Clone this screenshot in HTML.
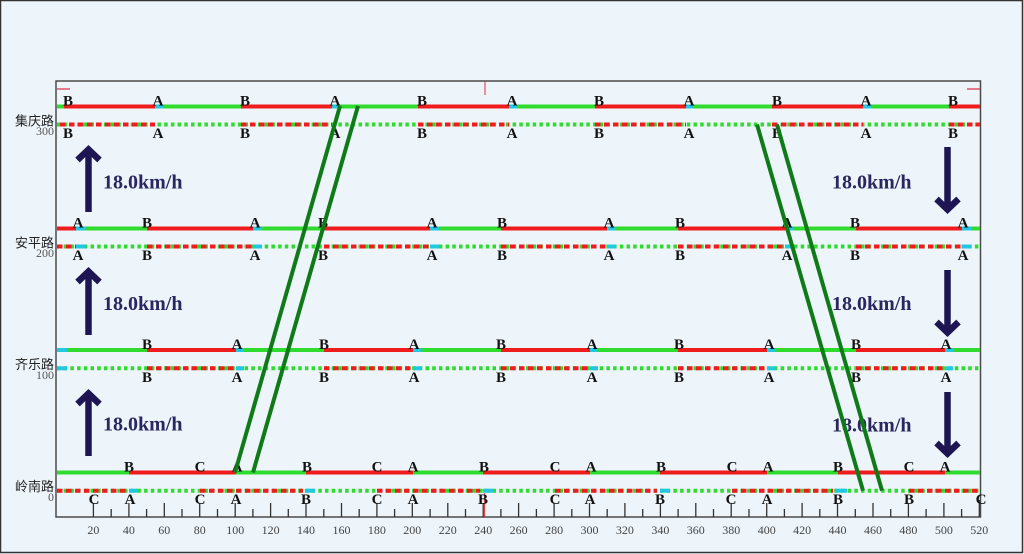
<!DOCTYPE html>
<html><head><meta charset="utf-8"><style>
html,body{margin:0;padding:0;background:#edf5fb;}
svg{display:block;}
.lb{font-family:"Liberation Serif",serif;font-weight:bold;font-size:15px;fill:#111;text-anchor:middle;}
.ax{font-family:"Liberation Serif",serif;font-size:12px;fill:#444;text-anchor:middle;}
.yl{font-family:"Liberation Serif",serif;font-size:12px;fill:#555;text-anchor:end;}
.st{font-family:"Liberation Sans","Noto Sans CJK SC",sans-serif;font-size:13px;fill:#222;text-anchor:end;}
.sp{font-family:"Liberation Serif",serif;font-weight:bold;font-size:20px;fill:#2b2660;}
.g{stroke:#2edb2e;stroke-width:4;}
.r{stroke:#ee1c1c;stroke-width:4;}
.c{stroke:#22c8e0;stroke-width:4;}
.gd{stroke:#2edb2e;stroke-width:4;stroke-dasharray:3.5 3.2;}
.rd{stroke:#ee1c1c;stroke-width:4;stroke-dasharray:5.5 3.5;}
.dg{stroke:#0f7a17;stroke-width:4;}
.ar{stroke:#1d1652;stroke-width:6.5;fill:none;stroke-linejoin:miter;}
</style></head><body>
<svg width="1024" height="554" viewBox="0 0 1024 554" xmlns="http://www.w3.org/2000/svg">
<rect x="0" y="0" width="1024" height="554" fill="#edf5fb"/>
<rect x="0.5" y="0.5" width="1022" height="552" fill="none" stroke="#333" stroke-width="1.5"/>

<!-- axes box -->
<rect x="56" y="81" width="924.5" height="436" fill="none" stroke="#4a4a4a" stroke-width="1.5"/>
<line x1="57" y1="89" x2="70" y2="89" stroke="#e05060" stroke-width="1.5"/>
<line x1="967" y1="89" x2="980" y2="89" stroke="#e05060" stroke-width="1.5"/>
<line x1="485" y1="81" x2="485" y2="95" stroke="#e03030" stroke-width="1"/>

<!-- ===== 集庆路 ===== -->
<line x1="57" y1="106.5" x2="980" y2="106.5" class="g"/>
<g class="r">
<line x1="64" y1="106.5" x2="155" y2="106.5"/><line x1="241" y1="106.5" x2="332" y2="106.5"/>
<line x1="418" y1="106.5" x2="509" y2="106.5"/><line x1="595" y1="106.5" x2="686" y2="106.5"/>
<line x1="772" y1="106.5" x2="863" y2="106.5"/><line x1="949" y1="106.5" x2="980" y2="106.5"/>
</g>
<g class="c">
<line x1="155" y1="106.5" x2="163" y2="106.5"/><line x1="332" y1="106.5" x2="340" y2="106.5"/>
<line x1="509" y1="106.5" x2="518" y2="106.5"/><line x1="686" y1="106.5" x2="694" y2="106.5"/>
<line x1="863" y1="106.5" x2="871" y2="106.5"/>
</g>
<line x1="57" y1="124.5" x2="980" y2="124.5" class="gd"/>
<g class="rd">
<line x1="60" y1="124.5" x2="155" y2="124.5"/><line x1="241" y1="124.5" x2="332" y2="124.5"/>
<line x1="418" y1="124.5" x2="509" y2="124.5"/><line x1="595" y1="124.5" x2="686" y2="124.5"/>
<line x1="772" y1="124.5" x2="863" y2="124.5"/><line x1="949" y1="124.5" x2="980" y2="124.5"/>
</g>

<!-- ===== 安平路 ===== -->
<line x1="57" y1="228.5" x2="980" y2="228.5" class="g"/>
<g class="r">
<line x1="57" y1="228.5" x2="76" y2="228.5"/><line x1="147" y1="228.5" x2="253" y2="228.5"/>
<line x1="324" y1="228.5" x2="430" y2="228.5"/><line x1="501" y1="228.5" x2="607" y2="228.5"/>
<line x1="678" y1="228.5" x2="785" y2="228.5"/><line x1="856" y1="228.5" x2="962" y2="228.5"/>
</g>
<g class="c">
<line x1="76" y1="228.5" x2="85" y2="228.5"/><line x1="253" y1="228.5" x2="262" y2="228.5"/>
<line x1="430" y1="228.5" x2="439" y2="228.5"/><line x1="607" y1="228.5" x2="616" y2="228.5"/>
<line x1="785" y1="228.5" x2="794" y2="228.5"/><line x1="962" y1="228.5" x2="971" y2="228.5"/>
</g>
<line x1="57" y1="246.5" x2="980" y2="246.5" class="gd"/>
<g class="rd">
<line x1="57" y1="246.5" x2="76" y2="246.5"/><line x1="147" y1="246.5" x2="253" y2="246.5"/>
<line x1="324" y1="246.5" x2="430" y2="246.5"/><line x1="501" y1="246.5" x2="607" y2="246.5"/>
<line x1="678" y1="246.5" x2="785" y2="246.5"/><line x1="856" y1="246.5" x2="962" y2="246.5"/>
</g>
<g class="c">
<line x1="76" y1="246.5" x2="85" y2="246.5"/><line x1="253" y1="246.5" x2="262" y2="246.5"/>
<line x1="430" y1="246.5" x2="439" y2="246.5"/><line x1="607" y1="246.5" x2="616" y2="246.5"/>
<line x1="785" y1="246.5" x2="794" y2="246.5"/><line x1="962" y1="246.5" x2="971" y2="246.5"/>
</g>

<!-- ===== 齐乐路 ===== -->
<line x1="57" y1="350" x2="980" y2="350" class="g"/>
<g class="r">
<line x1="147" y1="350" x2="236" y2="350"/><line x1="324" y1="350" x2="413" y2="350"/>
<line x1="501" y1="350" x2="590" y2="350"/><line x1="678" y1="350" x2="767" y2="350"/>
<line x1="856" y1="350" x2="945" y2="350"/>
</g>
<g class="c">
<line x1="57" y1="350" x2="67" y2="350"/><line x1="236" y1="350" x2="244" y2="350"/>
<line x1="413" y1="350" x2="421" y2="350"/><line x1="590" y1="350" x2="598" y2="350"/>
<line x1="767" y1="350" x2="775" y2="350"/><line x1="945" y1="350" x2="953" y2="350"/>
</g>
<line x1="57" y1="368.3" x2="980" y2="368.3" class="gd"/>
<g class="rd">
<line x1="147" y1="368.3" x2="236" y2="368.3"/><line x1="324" y1="368.3" x2="413" y2="368.3"/>
<line x1="501" y1="368.3" x2="590" y2="368.3"/><line x1="678" y1="368.3" x2="767" y2="368.3"/>
<line x1="856" y1="368.3" x2="945" y2="368.3"/>
</g>
<g class="c">
<line x1="57" y1="368.3" x2="67" y2="368.3"/><line x1="236" y1="368.3" x2="244" y2="368.3"/>
<line x1="413" y1="368.3" x2="421" y2="368.3"/><line x1="590" y1="368.3" x2="598" y2="368.3"/>
<line x1="767" y1="368.3" x2="775" y2="368.3"/><line x1="945" y1="368.3" x2="953" y2="368.3"/>
</g>

<!-- ===== 岭南路 ===== -->
<line x1="57" y1="472.5" x2="980" y2="472.5" class="g"/>
<g class="r">
<line x1="129" y1="472.5" x2="236" y2="472.5"/><line x1="306" y1="472.5" x2="413" y2="472.5"/>
<line x1="483" y1="472.5" x2="590" y2="472.5"/><line x1="660" y1="472.5" x2="767" y2="472.5"/>
<line x1="838" y1="472.5" x2="945" y2="472.5"/>
</g>
<line x1="57" y1="490.7" x2="980" y2="490.7" class="gd"/>
<g class="rd">
<line x1="57" y1="490.7" x2="127" y2="490.7"/><line x1="200" y1="490.7" x2="303" y2="490.7"/>
<line x1="377" y1="490.7" x2="480" y2="490.7"/><line x1="555" y1="490.7" x2="657" y2="490.7"/>
<line x1="732" y1="490.7" x2="833" y2="490.7"/><line x1="909" y1="490.7" x2="980" y2="490.7"/>
</g>
<g class="c">
<line x1="129" y1="490.7" x2="138" y2="490.7"/><line x1="306" y1="490.7" x2="315" y2="490.7"/>
<line x1="483" y1="490.7" x2="493" y2="490.7"/><line x1="660" y1="490.7" x2="669" y2="490.7"/>
<line x1="835" y1="490.7" x2="847" y2="490.7"/>
</g>

<!-- x ticks -->
<path d="M93.4 503V517M128.9 503V517M164.3 503V517M199.7 503V517M235.2 503V517M270.6 503V517M306 503V517M341.5 503V517M376.9 503V517M412.3 503V517M447.8 503V517M483.2 503V517M518.6 503V517M554.1 503V517M589.5 503V517M624.9 503V517M660.4 503V517M695.8 503V517M731.2 503V517M766.7 503V517M802.1 503V517M837.5 503V517M873 503V517M908.4 503V517M943.9 503V517M979.3 500V517
M111.2 509V517M146.6 509V517M182 509V517M217.5 509V517M252.9 509V517M288.3 509V517M323.8 509V517M359.2 509V517M394.6 509V517M430.1 509V517M465.5 509V517M500.9 509V517M536.4 509V517M571.8 509V517M607.2 509V517M642.7 509V517M678.1 509V517M713.5 509V517M749 509V517M784.4 509V517M819.8 509V517M855.3 509V517M890.7 509V517M926.1 509V517M961.6 509V517" stroke="#333" stroke-width="1.3" fill="none"/>
<line x1="484.6" y1="493" x2="484.6" y2="517" stroke="#e03030" stroke-width="1"/>

<g class="ax">
<text x="93.4" y="534">20</text><text x="128.9" y="534">40</text><text x="164.3" y="534">60</text>
<text x="199.7" y="534">80</text><text x="235.2" y="534">100</text><text x="270.6" y="534">120</text>
<text x="306" y="534">140</text><text x="341.5" y="534">160</text><text x="376.9" y="534">180</text>
<text x="412.3" y="534">200</text><text x="447.8" y="534">220</text><text x="483.2" y="534">240</text>
<text x="518.6" y="534">260</text><text x="554.1" y="534">280</text><text x="589.5" y="534">300</text>
<text x="624.9" y="534">320</text><text x="660.4" y="534">340</text><text x="695.8" y="534">360</text>
<text x="731.2" y="534">380</text><text x="766.7" y="534">400</text><text x="802.1" y="534">420</text>
<text x="837.5" y="534">440</text><text x="873" y="534">460</text><text x="908.4" y="534">480</text>
<text x="943.9" y="534">500</text><text x="979.3" y="534">520</text>
</g>

<!-- y labels -->
<g class="yl">
<text x="54" y="135">300</text><text x="54" y="257">200</text>
<text x="54" y="379">100</text><text x="54" y="501">0</text>
</g>
<g class="st">
<text x="54" y="125.5">集庆路</text><text x="54" y="247.5">安平路</text>
<text x="54" y="369">齐乐路</text><text x="54" y="491">岭南路</text>
</g>

<!-- event labels -->
<g class="lb">
<!-- 集庆路 -->
<text x="68" y="105.5">B</text><text x="158" y="105.5">A</text><text x="245" y="105.5">B</text><text x="335" y="105.5">A</text><text x="422" y="105.5">B</text><text x="512" y="105.5">A</text><text x="599" y="105.5">B</text><text x="689" y="105.5">A</text><text x="777" y="105.5">B</text><text x="866" y="105.5">A</text><text x="953" y="105.5">B</text>
<text x="68" y="138">B</text><text x="158" y="138">A</text><text x="245" y="138">B</text><text x="335" y="138">A</text><text x="422" y="138">B</text><text x="512" y="138">A</text><text x="599" y="138">B</text><text x="689" y="138">A</text><text x="777" y="138">B</text><text x="866" y="138">A</text><text x="953" y="138">B</text>
<!-- 安平路 -->
<text x="78" y="227.5">A</text><text x="147" y="227.5">B</text><text x="255" y="227.5">A</text><text x="323" y="227.5">B</text><text x="432" y="227.5">A</text><text x="502" y="227.5">B</text><text x="609" y="227.5">A</text><text x="680" y="227.5">B</text><text x="787" y="227.5">A</text><text x="855" y="227.5">B</text><text x="963" y="227.5">A</text>
<text x="78" y="260">A</text><text x="147" y="260">B</text><text x="255" y="260">A</text><text x="323" y="260">B</text><text x="432" y="260">A</text><text x="502" y="260">B</text><text x="609" y="260">A</text><text x="680" y="260">B</text><text x="787" y="260">A</text><text x="855" y="260">B</text><text x="963" y="260">A</text>
<!-- 齐乐路 -->
<text x="147" y="349">B</text><text x="237" y="349">A</text><text x="324" y="349">B</text><text x="414" y="349">A</text><text x="501" y="349">B</text><text x="592" y="349">A</text><text x="679" y="349">B</text><text x="769" y="349">A</text><text x="856" y="349">B</text><text x="946" y="349">A</text>
<text x="147" y="382">B</text><text x="237" y="382">A</text><text x="324" y="382">B</text><text x="414" y="382">A</text><text x="501" y="382">B</text><text x="592" y="382">A</text><text x="679" y="382">B</text><text x="769" y="382">A</text><text x="856" y="382">B</text><text x="946" y="382">A</text>
<!-- 岭南路 -->
<text x="129" y="471.5">B</text><text x="200" y="471.5">C</text><text x="237" y="471.5">A</text><text x="307" y="471.5">B</text><text x="377" y="471.5">C</text><text x="413" y="471.5">A</text><text x="484" y="471.5">B</text><text x="555" y="471.5">C</text><text x="591" y="471.5">A</text><text x="661" y="471.5">B</text><text x="732" y="471.5">C</text><text x="768" y="471.5">A</text><text x="838" y="471.5">B</text><text x="909" y="471.5">C</text><text x="945" y="471.5">A</text>
<text x="94" y="504">C</text><text x="130" y="504">A</text><text x="200" y="504">C</text><text x="236" y="504">A</text><text x="306" y="504">B</text><text x="377" y="504">C</text><text x="413" y="504">A</text><text x="483" y="504">B</text><text x="555" y="504">C</text><text x="590" y="504">A</text><text x="660" y="504">B</text><text x="731" y="504">C</text><text x="767" y="504">A</text><text x="838" y="504">B</text><text x="909" y="504">B</text><text x="981" y="504">C</text>
</g>

<!-- speed texts -->
<g class="sp">
<text x="103" y="188.5">18.0km/h</text>
<text x="103" y="310">18.0km/h</text>
<text x="103" y="430.5">18.0km/h</text>
<text x="832" y="188.5">18.0km/h</text>
<text x="832" y="310">18.0km/h</text>
<text x="832" y="431.5">18.0km/h</text>
</g>

<!-- arrows up -->
<g class="ar">
<line x1="88.5" y1="150" x2="88.5" y2="212"/><polyline points="77.5,160 88.5,149.5 99.5,160"/>
<line x1="88.5" y1="272" x2="88.5" y2="335"/><polyline points="77.5,282 88.5,271.5 99.5,282"/>
<line x1="88.5" y1="394" x2="88.5" y2="456"/><polyline points="77.5,404 88.5,393.5 99.5,404"/>
<!-- arrows down -->
<line x1="947.5" y1="147" x2="947.5" y2="209"/><polyline points="936.5,199 947.5,209.5 958.5,199"/>
<line x1="947.5" y1="270" x2="947.5" y2="332"/><polyline points="936.5,322 947.5,332.5 958.5,322"/>
<line x1="947.5" y1="392" x2="947.5" y2="453"/><polyline points="936.5,443 947.5,453.5 958.5,443"/>
</g>

<!-- diagonal green lines -->
<g class="dg">
<line x1="340" y1="106" x2="235" y2="472.5"/>
<line x1="358" y1="106" x2="253" y2="472.5"/>
<line x1="757" y1="124.5" x2="863" y2="490.7"/>
<line x1="777" y1="124.5" x2="882" y2="490.7"/>
</g>
</svg>
</body></html>
